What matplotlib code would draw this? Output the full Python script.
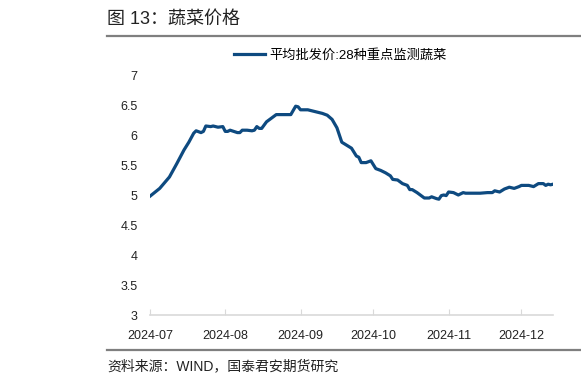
import matplotlib
matplotlib.use("Agg")
import matplotlib.pyplot as plt
import matplotlib.dates as mdates
from matplotlib.lines import Line2D
import pandas as pd

plt.rcParams['font.family'] = ['Liberation Sans', 'Noto Sans CJK SC', 'DejaVu Sans']

title = "图 13：蔬菜价格"
series_name = "平均批发价:28种重点监测蔬菜"
source = "资料来源：WIND，国泰君安期货研究"

dates = [
    "2024-07-01", "2024-07-05", "2024-07-09", "2024-07-12", "2024-07-15", "2024-07-17",
    "2024-07-19", "2024-07-20", "2024-07-22", "2024-07-23", "2024-07-24", "2024-07-26",
    "2024-07-27", "2024-07-29", "2024-07-31", "2024-08-01", "2024-08-02", "2024-08-03",
    "2024-08-06", "2024-08-07", "2024-08-08", "2024-08-10", "2024-08-12", "2024-08-13",
    "2024-08-14", "2024-08-15", "2024-08-16", "2024-08-18", "2024-08-20", "2024-08-22",
    "2024-08-25", "2024-08-28", "2024-08-30", "2024-08-31", "2024-09-01", "2024-09-04",
    "2024-09-07", "2024-09-10", "2024-09-12", "2024-09-14", "2024-09-16", "2024-09-18",
    "2024-09-20", "2024-09-22", "2024-09-24", "2024-09-25", "2024-09-26", "2024-09-28",
    "2024-09-30", "2024-10-02", "2024-10-04", "2024-10-06", "2024-10-08", "2024-10-09",
    "2024-10-11", "2024-10-13", "2024-10-15", "2024-10-16", "2024-10-17", "2024-10-19",
    "2024-10-21", "2024-10-22", "2024-10-24", "2024-10-25", "2024-10-27", "2024-10-28",
    "2024-10-29", "2024-10-30", "2024-10-31", "2024-11-01", "2024-11-03", "2024-11-05",
    "2024-11-07", "2024-11-08", "2024-11-11", "2024-11-14", "2024-11-17", "2024-11-19",
    "2024-11-20", "2024-11-21", "2024-11-22", "2024-11-24", "2024-11-26", "2024-11-28",
    "2024-11-30", "2024-12-01", "2024-12-04", "2024-12-06", "2024-12-08", "2024-12-10",
    "2024-12-11", "2024-12-12", "2024-12-13", "2024-12-14",
]
prices = [
    4.98, 5.11, 5.30, 5.52, 5.75, 5.88,
    6.03, 6.07, 6.04, 6.06, 6.15, 6.14,
    6.15, 6.13, 6.14, 6.06, 6.06, 6.08,
    6.04, 6.04, 6.08, 6.08, 6.07, 6.08,
    6.14, 6.11, 6.11, 6.22, 6.28, 6.34,
    6.34, 6.34, 6.48, 6.47, 6.42, 6.42,
    6.39, 6.36, 6.33, 6.26, 6.12, 5.88,
    5.83, 5.78, 5.65, 5.63, 5.54, 5.54,
    5.57, 5.44, 5.41, 5.37, 5.32, 5.26,
    5.25, 5.19, 5.16, 5.09, 5.09, 5.04,
    4.98, 4.95, 4.95, 4.97, 4.94, 4.93,
    4.99, 5.00, 4.99, 5.05, 5.04, 5.00,
    5.04, 5.03, 5.03, 5.03, 5.04, 5.04,
    5.07, 5.06, 5.05, 5.10, 5.13, 5.11,
    5.14, 5.16, 5.16, 5.14, 5.19, 5.19,
    5.16, 5.18, 5.17, 5.18,
]
month_ticks = ["2024-07-01", "2024-08-01", "2024-09-01", "2024-10-01", "2024-11-01", "2024-12-01"]
y_ticks = [3, 3.5, 4, 4.5, 5, 5.5, 6, 6.5, 7]

line_color = "#0e4a80"
rule_color = "#7f7f7f"

x = pd.to_datetime(dates)

fig = plt.figure(figsize=(5.81, 3.85), dpi=100)
ax = fig.add_axes([150 / 581, 1 - 315 / 385, 403 / 581, 240 / 385])
ax.plot(x, prices, color=line_color, lw=2.3, solid_joinstyle="round")

ax.set_ylim(3, 7)
ax.set_yticks(y_ticks)
ax.set_yticklabels([f"{v:g}" for v in y_ticks])
ax.set_xlim(pd.Timestamp("2024-07-01"), pd.Timestamp("2024-12-14"))
ax.set_xticks(pd.to_datetime(month_ticks))
ax.xaxis.set_major_formatter(mdates.DateFormatter("%Y-%m"))

for s in ["top", "right", "left"]:
    ax.spines[s].set_visible(False)
ax.spines["bottom"].set_color("#d9d9d9")
ax.spines["bottom"].set_linewidth(1.2)
ax.tick_params(axis="x", direction="in", length=4, color="#d9d9d9", labelsize=9, pad=11, labelcolor="#222222")
ax.tick_params(axis="y", length=0, labelsize=9, pad=9, labelcolor="#222222")

# legend on top
handle = Line2D([], [], color=line_color, lw=2.3)
fig.legend([handle], [series_name], loc="center", bbox_to_anchor=(340 / 581, 1 - 55 / 385),
           frameon=False, fontsize=9.5, handlelength=2.4, handletextpad=0.3)

# title and rules
fig.text(107 / 581, 1 - 19 / 385, title, fontsize=13, va="center", ha="left", color="#222222")
fig.add_artist(Line2D([107 / 581, 1], [1 - 36 / 385] * 2, color=rule_color, lw=1.6))
fig.add_artist(Line2D([107 / 581, 1], [1 - 350 / 385] * 2, color=rule_color, lw=1.6))
fig.text(107 / 581, 1 - 366 / 385, source, fontsize=10, va="center", ha="left", color="#222222")

fig.savefig("out.png", dpi=100)
